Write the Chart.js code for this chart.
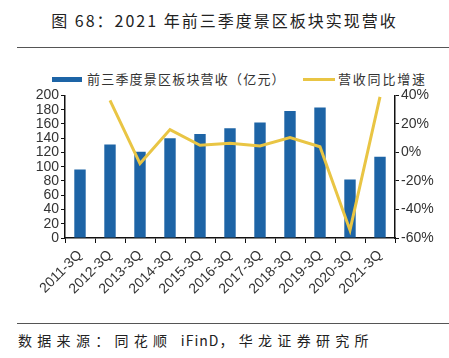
<!DOCTYPE html>
<html>
<head>
<meta charset="utf-8">
<script src="https://cdn.jsdelivr.net/npm/chart.js@4.4.1/dist/chart.umd.min.js"></script>
<style>
  html, body { margin: 0; padding: 0; background: #fff; }
  body { width: 449px; height: 358px; position: relative; overflow: hidden;
         font-family: "Noto Sans CJK SC", "Liberation Sans", sans-serif; color: #222; }
  .title { position: absolute; top: 8px; left: 0; width: 449px; text-align: center;
           font-size: 16px; letter-spacing: 2px; line-height: 24px; }
  .rule { position: absolute; left: 17px; right: 0; height: 0; border-top: 1.5px solid #555; }
  .legend { position: absolute; top: 70px; font-size: 13px; line-height: 18px; color: #333; }
  .swatch { position: absolute; top: 7px; }
  .source { position: absolute; top: 331px; left: 18px; font-size: 14px; letter-spacing: 5.3px; line-height: 18px; }
  .source .latin { letter-spacing: 1px; }
  #wrap { position: absolute; left: 0; top: 85px; width: 449px; height: 230px; }
</style>
</head>
<body>
<div class="title">图 68：2021 年前三季度景区板块实现营收</div>
<div class="rule" style="top:47px"></div>

<div class="legend" style="left:52px;letter-spacing:1.2px">
  <span class="swatch" style="left:0;width:30px;height:5px;background:#1D64A6"></span>
  <span style="margin-left:35px">前三季度景区板块营收（亿元）</span>
</div>
<div class="legend" style="left:303px;letter-spacing:1.8px">
  <span class="swatch" style="left:0;top:8px;width:32px;height:3px;background:#E9C544"></span>
  <span style="margin-left:35px">营收同比增速</span>
</div>

<div id="wrap"><canvas id="chart"></canvas></div>

<div class="rule" style="top:323px"></div>
<div class="source">数据来源：同花顺 <span class="latin">iFinD</span>，华龙证券研究所</div>

<script>
// 类别与数据
const categories = ['2011-3Q', '2012-3Q', '2013-3Q', '2014-3Q', '2015-3Q', '2016-3Q',
                    '2017-3Q', '2018-3Q', '2019-3Q', '2020-3Q', '2021-3Q'];
const revenue = [96, 131, 121, 140, 146, 154, 162, 178, 183, 82, 114];   // 亿元
const growth = [null, 36.5, -7.8, 16, 5, 6.5, 4.5, 10.4, 4, -54.5, 39];  // %
const leftTicks = [0, 200, 20];     // min, max, step
const rightTicks = [-60, 40, 20];

const tickFont = { family: 'Liberation Sans', size: 14 };
const axisColor = '#111';

new Chart(document.getElementById('chart'), {
    type: 'bar',
    data: {
        labels: categories,
        datasets: [
            {
                type: 'line',
                label: '营收同比增速',
                data: growth,
                yAxisID: 'y2',
                borderColor: '#E9C544',
                borderWidth: 3,
                pointRadius: 0,
                tension: 0,
                order: 0
            },
            {
                type: 'bar',
                label: '前三季度景区板块营收（亿元）',
                data: revenue,
                yAxisID: 'y',
                backgroundColor: '#1D64A6',
                categoryPercentage: 1,
                barPercentage: 0.38,
                order: 1
            }
        ]
    },
    options: {
        responsive: true,
        maintainAspectRatio: false,
        animation: false,
        layout: { padding: { top: 10, left: 0, right: 0, bottom: 0 } },
        plugins: { legend: { display: false }, tooltip: { enabled: false } },
        scales: {
            x: {
                offset: true,
                grid: { display: true, drawOnChartArea: false, tickLength: 5, color: axisColor, offset: true },
                border: { display: true, color: axisColor, width: 1.5 },
                ticks: { color: '#333', font: { family: 'Liberation Sans', size: 14 },
                         minRotation: 45, maxRotation: 45, padding: 4, autoSkip: false },
                afterFit: s => { s.height = 77; }
            },
            y: {
                position: 'left',
                min: leftTicks[0], max: leftTicks[1],
                grid: { display: true, drawOnChartArea: false, tickLength: 4, color: axisColor },
                border: { display: true, color: axisColor, width: 1.5 },
                ticks: { stepSize: leftTicks[2], color: '#333', font: tickFont, padding: 2, autoSkip: false },
                afterFit: s => { s.width = 65; }
            },
            y2: {
                position: 'right',
                min: rightTicks[0], max: rightTicks[1],
                grid: { display: true, drawOnChartArea: false, tickLength: 4, color: axisColor },
                border: { display: true, color: axisColor, width: 1.5 },
                ticks: { stepSize: rightTicks[2], color: '#333', font: tickFont, padding: 2, autoSkip: false,
                         callback: v => v + '%' },
                afterFit: s => { s.width = 54; }
            }
        }
    }
});
</script>
</body>
</html>
